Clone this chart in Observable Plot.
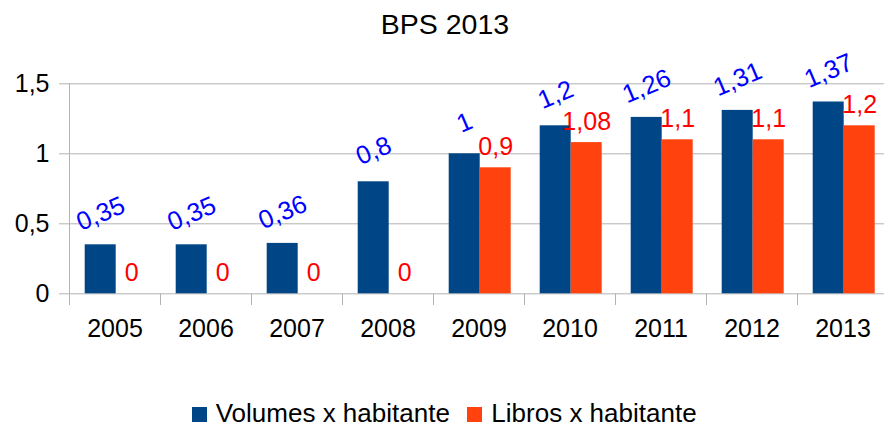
<!DOCTYPE html>
<html>
<head>
<meta charset="utf-8">
<script src="https://cdn.jsdelivr.net/npm/d3@7"></script>
<script src="https://cdn.jsdelivr.net/npm/@observablehq/plot@0.6"></script>
<style>
  body { margin: 0; background: #fff; font-family: "Liberation Sans", Arial, sans-serif; }
  #wrap { position: relative; width: 884px; height: 430px; overflow: hidden; background: #fff; }
  #chart { position: absolute; left: 0; top: 0; }
  #title { position: absolute; left: 0; top: 5.9px; width: 890px; height: 36.5px; text-align: center; font-size: 28.5px; line-height: 36.5px; color: #000; }
  #legend { position: absolute; left: 191.7px; top: 399.3px; height: 29px; display: flex; align-items: center; font-size: 26px; line-height: 29px; color: #000; white-space: nowrap; }
  #legend .sw { width: 15px; height: 15px; margin-top: 2px; margin-right: 9px; flex: none; }
  #legend .lab { margin-right: 17.5px; }
</style>
</head>
<body>
<div id="wrap">
  <div id="chart"></div>
  <div id="title"></div>
  <div id="legend"></div>
</div>
<script>
// ---- data ----
const title = "BPS 2013";
const years = ["2005", "2006", "2007", "2008", "2009", "2010", "2011", "2012", "2013"];
const seriesNames = ["Volumes x habitante", "Libros x habitante"];
const volumes = [0.35, 0.35, 0.36, 0.8, 1, 1.2, 1.26, 1.31, 1.37];
const libros = [0, 0, 0, 0, 0.9, 1.08, 1.1, 1.1, 1.2];
const yTicks = [0, 0.5, 1, 1.5];

// ---- styles ----
const colors = ["#004586", "#ff420e"];
const labelColors = ["#0000ff", "#ff0000"];
const W = 884, H = 430;
const mTop = 83.3, mBottom = H - 293.3, mLeft = 67.3, mRight = -6.1;
const grid = "#b3b3b3";
const fmt = v => String(v).replace(".", ",");

const rows = [];
years.forEach((y, i) => {
  rows.push({year: y, series: seriesNames[0], value: volumes[i]});
  rows.push({year: y, series: seriesNames[1], value: libros[i]});
});
const volRows = rows.filter(d => d.series === seriesNames[0]);
const libRows = rows.filter(d => d.series === seriesNames[1]);
const plotH = H - mTop - mBottom;

const chart = Plot.plot({
  width: W,
  height: H,
  marginTop: mTop,
  marginBottom: mBottom,
  marginLeft: mLeft,
  marginRight: mRight,
  style: {fontFamily: "'Liberation Sans', Arial, sans-serif", fontSize: "25px", background: "white", color: "black"},
  fx: {domain: years, padding: 0},
  x: {domain: seriesNames, paddingInner: 0, paddingOuter: 0.461, align: 0.53, axis: null},
  y: {domain: [0, 1.5], nice: false},
  color: {domain: seriesNames, range: colors},
  marks: [
    Plot.gridY({ticks: yTicks, stroke: grid, strokeOpacity: 1}),
    Plot.frame({anchor: "left", stroke: grid, strokeOpacity: 1, insetTop: plotH, insetBottom: -10.7}),
    Plot.frame({anchor: "left", stroke: grid, strokeOpacity: 1, insetBottom: -10.7, facetAnchor: "left"}),
    Plot.barY(rows, {fx: "year", x: "series", y: "value", fill: "series"}),
    Plot.text(volRows, {fx: "year", x: "series", y: "value", text: d => fmt(d.value), fill: labelColors[0],
      fontSize: 25.5, rotate: -23, dy: -31, textAnchor: "middle", lineAnchor: "middle"}),
    Plot.text(libRows, {fx: "year", x: "series", y: "value", text: d => fmt(d.value), fill: labelColors[1],
      fontSize: 25, dy: -13, textAnchor: "middle", lineAnchor: "bottom"}),
    Plot.axisY({ticks: yTicks, tickFormat: fmt, tickSize: 10, tickPadding: 10, stroke: grid, color: "black", label: null}),
    Plot.axisFx({anchor: "bottom", tickSize: 0, tickPadding: 25, label: null})
  ]
});
document.getElementById("chart").appendChild(chart);
document.getElementById("title").textContent = title;

const legend = document.getElementById("legend");
seriesNames.forEach((s, i) => {
  const sw = document.createElement("span");
  sw.className = "sw";
  sw.style.background = colors[i];
  const lab = document.createElement("span");
  lab.className = "lab";
  lab.textContent = s;
  legend.appendChild(sw);
  legend.appendChild(lab);
});
</script>
</body>
</html>
